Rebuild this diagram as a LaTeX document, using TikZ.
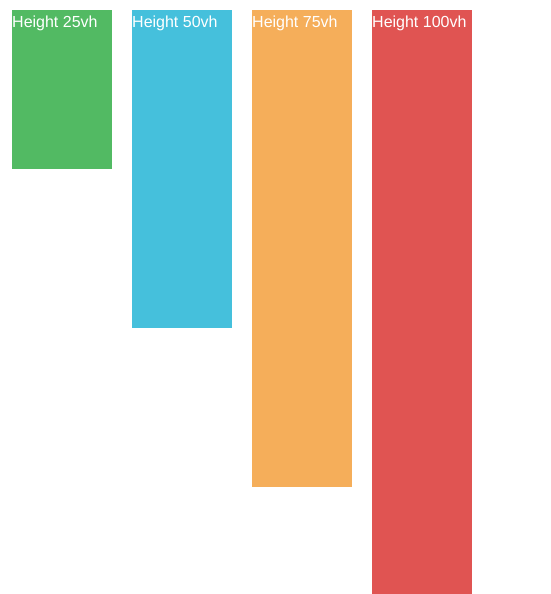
\documentclass[tikz,border=0pt]{standalone}
\usepackage{fontspec}
\setmainfont{Liberation Sans}
\definecolor{cgreen}{HTML}{52BA63}
\definecolor{cblue}{HTML}{45C0DC}
\definecolor{corange}{HTML}{F5AE5A}
\definecolor{cred}{HTML}{E05452}
\tikzset{bar/.style={fill=#1,draw=none},
  lab/.style={anchor=base west,inner sep=0pt,text=white,font=\fontsize{16}{19}\selectfont}}
\begin{document}
\begin{tikzpicture}[x=1pt,y=-1pt]
\useasboundingbox[fill=white] (0,0) rectangle (550,594);
\fill[bar=cgreen] (12,10) rectangle (112,169);
\fill[bar=cblue] (132,10) rectangle (232,328);
\fill[bar=corange] (252,10) rectangle (352,487);
\fill[bar=cred] (372,10) rectangle (472,594);
\node[lab] (t1) at (12,27.5) {Height 25vh};
\node[lab] (t2) at (132,27.5) {Height 50vh};
\node[lab] (t3) at (252,27.5) {Height 75vh};
\node[lab] (t4) at (372,27.5) {Height 100vh};
\end{tikzpicture}
\end{document}
